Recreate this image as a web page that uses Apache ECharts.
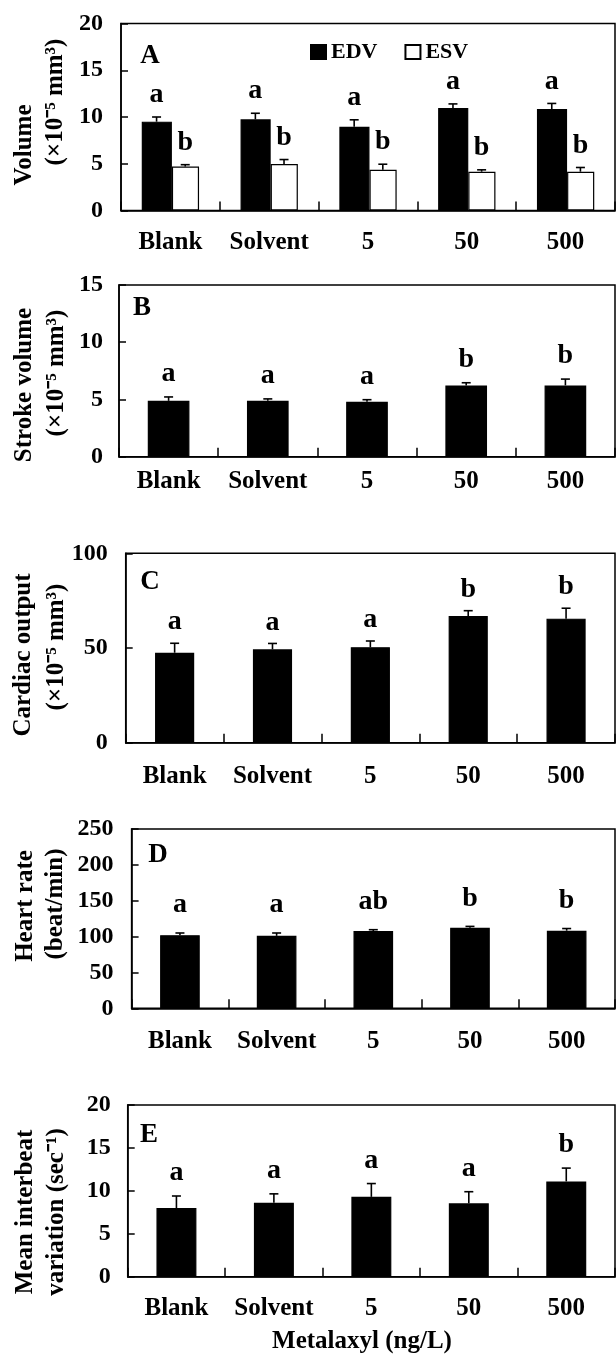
<!DOCTYPE html>
<html>
<head>
<meta charset="utf-8">
<script src="https://cdn.jsdelivr.net/npm/echarts@6/dist/echarts.min.js"></script>
<style>
html,body{margin:0;padding:0;background:#fff;}
#main{width:616px;height:1356px;}
</style>
</head>
<body>
<div id="main"></div>
<script>
// ---------- data ----------
const categories = ['Blank', 'Solvent', '5', '50', '500'];

// Panel A: volume (x10^-5 mm^3)
const edv      = [9.5, 9.75, 8.95, 10.95, 10.85];
const edvErr   = [10.0, 10.4, 9.7, 11.4, 11.45];
const edvSig   = ['a', 'a', 'a', 'a', 'a'];
const esv      = [4.7, 4.97, 4.35, 4.15, 4.15];
const esvErr   = [4.9, 5.45, 4.95, 4.35, 4.6];
const esvSig   = ['b', 'b', 'b', 'b', 'b'];

// Panel B: stroke volume
const strokeVol    = [4.88, 4.88, 4.8, 6.23, 6.23];
const strokeVolErr = [5.22, 5.05, 4.98, 6.46, 6.78];
const strokeVolSig = ['a', 'a', 'a', 'b', 'b'];

// Panel C: cardiac output
const cardiacOut    = [47.5, 49.3, 50.4, 66.9, 65.5];
const cardiacOutErr = [52.5, 52.4, 53.7, 69.7, 71.0];
const cardiacOutSig = ['a', 'a', 'a', 'b', 'b'];

// Panel D: heart rate
const heartRate    = [102, 101, 107.8, 112.2, 108.2];
const heartRateErr = [105, 105, 109.6, 114.2, 111.2];
const heartRateSig = ['a', 'a', 'ab', 'b', 'b'];

// Panel E: mean interbeat variation
const interbeat    = [8.0, 8.6, 9.3, 8.55, 11.1];
const interbeatErr = [9.4, 9.65, 10.85, 9.9, 12.65];
const interbeatSig = ['a', 'a', 'a', 'a', 'b'];

// ---------- style helpers ----------
const FONT = '"Liberation Serif", "Times New Roman", serif';
const chart = echarts.init(document.getElementById('main'), null, {renderer: 'canvas'});

const grids = [
  {left: 121,   top: 23.5,  width: 494,   height: 187},
  {left: 119,   top: 285,   width: 496,   height: 171.7},
  {left: 125.7, top: 553.3, width: 489.3, height: 189.4},
  {left: 131.6, top: 829,   width: 483.4, height: 179.3},
  {left: 127.7, top: 1105,  width: 487.3, height: 171.7}
].map(g => Object.assign({show: true, borderColor: '#000', borderWidth: 1.5, backgroundColor: 'transparent'}, g));

const yRanges = [[0, 20, 5], [0, 15, 5], [0, 100, 50], [0, 250, 50], [0, 20, 5]];
const yLabelMargin = [18, 16, 18, 18, 17];
const xLabelMargin = [20, 12, 21, 21, 19];

const xAxes = grids.map((g, i) => ({
  type: 'category', gridIndex: i, data: categories,
  axisLine: {show: true, lineStyle: {color: '#000', width: 1.5}},
  axisTick: {show: true, inside: true, length: 9, lineStyle: {color: '#000', width: 1.5}},
  axisLabel: {interval: 0, color: '#000', fontFamily: FONT, fontWeight: 'bold', fontSize: 25, margin: xLabelMargin[i]},
  splitLine: {show: false}
}));

const yAxes = yRanges.map((r, i) => ({
  type: 'value', gridIndex: i, min: r[0], max: r[1], interval: r[2],
  axisLine: {show: true, lineStyle: {color: '#000', width: 1.5}},
  axisTick: {show: true, inside: true, length: 7, lineStyle: {color: '#000', width: 1.5}},
  axisLabel: {color: '#000', fontFamily: FONT, fontWeight: 'bold', fontSize: 24, margin: yLabelMargin[i]},
  splitLine: {show: false}
}));

function errSeries(gridIdx, values, errs, sigs, offsetFrac, gap) {
  return {
    type: 'custom', xAxisIndex: gridIdx, yAxisIndex: gridIdx, z: 5, silent: true,
    data: values.map((v, k) => [k, v, errs[k]]),
    encode: {x: 0, y: [1, 2]},
    renderItem: function (params, api) {
      const k = api.value(0), v = api.value(1), e = api.value(2);
      const p0 = api.coord([k, v]);
      const p1 = api.coord([k, e]);
      const bw = api.size([1, 0])[0];
      const cx = p0[0] + offsetFrac * bw;
      const cap = 4.5;
      return {
        type: 'group',
        children: [
          {type: 'line', shape: {x1: cx, y1: p0[1], x2: cx, y2: p1[1]}, style: {stroke: '#000', lineWidth: 1.6}},
          {type: 'line', shape: {x1: cx - cap, y1: p1[1], x2: cx + cap, y2: p1[1]}, style: {stroke: '#000', lineWidth: 1.6}},
          {type: 'text', x: cx, y: p1[1] - gap,
           style: {text: sigs[params.dataIndex], fill: '#000', font: 'bold 28px ' + FONT, textAlign: 'center', textVerticalAlign: 'bottom'}}
        ]
      };
    }
  };
}

function barSeries(name, gridIdx, values, width, fill, extra) {
  return Object.assign({
    name: name, type: 'bar', xAxisIndex: gridIdx, yAxisIndex: gridIdx,
    data: values, barWidth: width,
    itemStyle: {color: fill, borderColor: '#000', borderWidth: 1.2},
    silent: true
  }, extra || {});
}

const series = [
  barSeries('EDV', 0, edv, '30.5%', '#000', {barGap: '0%'}),
  barSeries('ESV', 0, esv, '27.5%', '#fff', {barGap: '0%'}),
  errSeries(0, edv, edvErr, edvSig, -0.14, 8),
  errSeries(0, esv, esvErr, esvSig, 0.15, 8),
  barSeries('SV', 1, strokeVol, '42%', '#000'),
  errSeries(1, strokeVol, strokeVolErr, strokeVolSig, 0, 9),
  barSeries('CO', 2, cardiacOut, '40%', '#000'),
  errSeries(2, cardiacOut, cardiacOutErr, cardiacOutSig, 0, 7),
  barSeries('HR', 3, heartRate, '41%', '#000'),
  errSeries(3, heartRate, heartRateErr, heartRateSig, 0, 14),
  barSeries('MIV', 4, interbeat, '41%', '#000'),
  errSeries(4, interbeat, interbeatErr, interbeatSig, 0, 9)
];

function vText(text, x, y, size) {
  return {type: 'text', x: x, y: y, rotation: Math.PI / 2,
    style: {text: text, fill: '#000', font: 'bold ' + (size || 25) + 'px ' + FONT, textAlign: 'center', textVerticalAlign: 'middle'}};
}
function hText(text, x, y, size) {
  return {type: 'text', x: x, y: y,
    style: {text: text, fill: '#000', font: 'bold ' + (size || 27) + 'px ' + FONT, textAlign: 'center', textVerticalAlign: 'middle'}};
}

const graphic = [
  vText('Volume', 24.5, 145),
  vText('(×10\u207B\u2075 mm\u00B3)', 56, 102),
  vText('Stroke volume', 24.5, 385),
  vText('(×10\u207B\u2075 mm\u00B3)', 56.5, 373),
  vText('Cardiac output', 23.5, 655),
  vText('(×10\u207B\u2075 mm\u00B3)', 56.5, 647),
  vText('Heart rate', 25.5, 906),
  vText('(beat/min)', 56, 904),
  vText('Mean interbeat', 25.5, 1212),
  vText('variation (sec\u207B\u00B9)', 56.5, 1212),
  hText('A', 150, 56),
  hText('B', 142, 308),
  hText('C', 150, 582),
  hText('D', 158, 855),
  hText('E', 149, 1135),
  hText('Metalaxyl (ng/L)', 362, 1342, 25)
];

chart.setOption({
  animation: false,
  backgroundColor: '#fff',
  grid: grids,
  xAxis: xAxes,
  yAxis: yAxes,
  legend: {
    data: ['EDV', 'ESV'], left: 305, top: 36, icon: 'rect',
    itemWidth: 15, itemHeight: 14, itemGap: 27,
    textStyle: {color: '#000', fontFamily: FONT, fontWeight: 'bold', fontSize: 22}
  },
  series: series,
  graphic: graphic
});
</script>
</body>
</html>
